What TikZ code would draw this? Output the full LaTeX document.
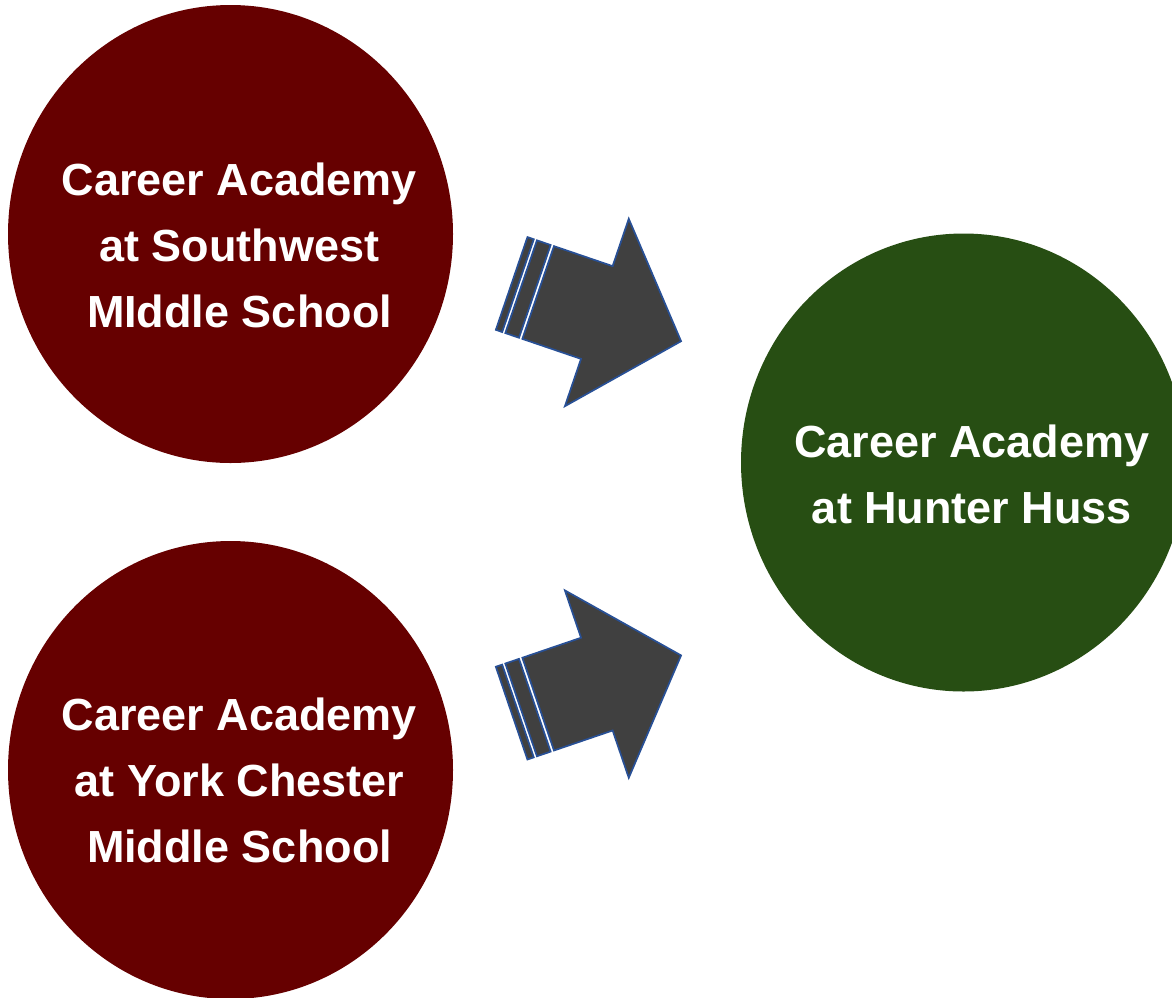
\documentclass[tikz,border=0pt]{standalone}
\usepackage{fontspec}
\setmainfont{Liberation Sans}
\usetikzlibrary{shapes.geometric}
\definecolor{schoolred}{RGB}{102,0,0}
\definecolor{schoolgreen}{RGB}{39,78,19}
\definecolor{arrowfill}{RGB}{64,64,64}
\definecolor{arrowline}{RGB}{40,80,150}
\newcommand{\stripedarrowshape}{%
  \path[arrowpart] (0,49) -- (62,49) -- (62,99) -- (151,0) -- (62,-99) -- (62,-49) -- (0,-49) -- cycle;
  \path[arrowpart] (-18,-49) rectangle (-3.5,49);
  \path[arrowpart] (-28,-49) rectangle (-21.3,49);}
\begin{document}
\begin{tikzpicture}[x=1pt,y=-1pt,
  school/.style={ellipse, minimum width=445pt, minimum height=458pt, inner sep=0pt, draw=none},
  lbl/.style={text=white, font=\fontsize{45}{54}\selectfont\bfseries, anchor=base, inner sep=0pt},
  arrowpart/.style={fill=arrowfill, draw=arrowline, line width=1.7pt, line join=miter}]
\useasboundingbox (0,0) rectangle (1172,997);
\node[school, fill=schoolred] (sw) at (230.5,234) {};
\node[school, fill=schoolred] (yc) at (230.5,770) {};
\node[school, fill=schoolgreen] (hh) at (963.5,462.5) {};

\node[lbl] (sw1) at (239.5,195) {Career Academy};
\node[lbl] (sw2) at (239.5,261) {at Southwest};
\node[lbl] (sw3) at (239.5,327) {MIddle School};

\node[lbl] (yc1) at (239.5,730) {Career Academy};
\node[lbl] (yc2) at (239.5,796) {at York Chester};
\node[lbl] (yc3) at (239.5,862) {Middle School};

\node[lbl] (hh1) at (972,457) {Career Academy};
\node[lbl] (hh2) at (972,523) {at Hunter Huss};

\begin{scope}[shift={(538.15,292.5)}, rotate=-18.82]
  \stripedarrowshape
\end{scope}
\begin{scope}[shift={(538.15,704.1)}, rotate=18.82]
  \stripedarrowshape
\end{scope}
\end{tikzpicture}
\end{document}
